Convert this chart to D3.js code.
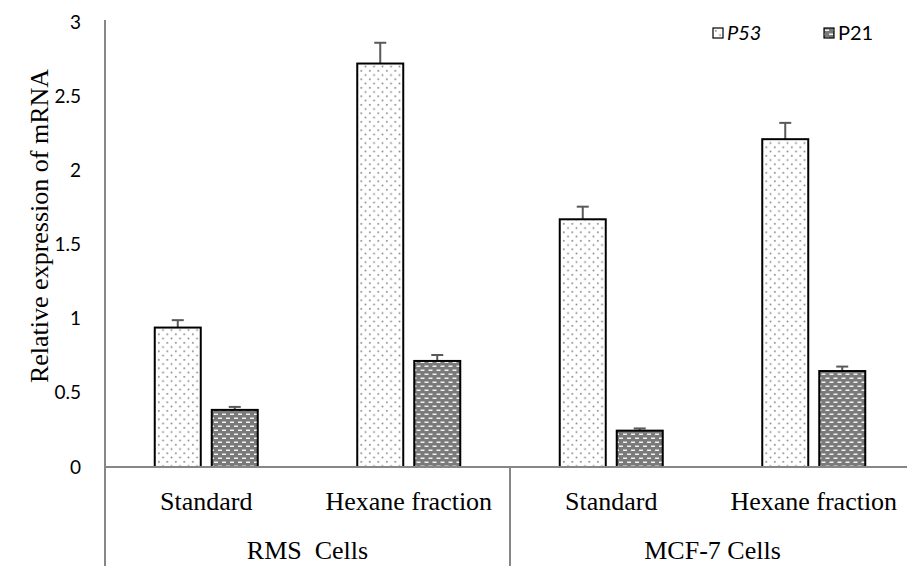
<!DOCTYPE html>
<html>
<head>
<meta charset="utf-8">
<title>Relative expression of mRNA</title>
<script src="https://d3js.org/d3.v7.min.js"></script>
<style>
  body { margin: 0; background: #fff; }
  svg { display: block; }
  .tick-label { font-family: Lato, "Open Sans", sans-serif; font-size: 19px; fill: #000; }
  .cat-label { font-family: "Liberation Serif", "DejaVu Serif", serif; font-size: 26px; fill: #000; }
  .legend-label { font-family: Lato, "Open Sans", sans-serif; font-size: 20px; fill: #000; }
</style>
</head>
<body>
<div id="chart"></div>
<script>
// chart values
var groups = ["RMS  Cells", "MCF-7 Cells"];
var categories = ["Standard", "Hexane fraction", "Standard", "Hexane fraction"];
var seriesNames = ["P53", "P21"];
var p53 = [0.94, 2.72, 1.67, 2.21];
var p53Err = [0.05, 0.14, 0.085, 0.11];
var p21 = [0.385, 0.715, 0.245, 0.647];
var p21Err = [0.02, 0.04, 0.015, 0.03];
var yTicks = [0, 0.5, 1, 1.5, 2, 2.5, 3];

var width = 907, height = 566;
var plotLeft = 105, plotRight = 915, plotTop = 22, plotBottom = 467;

var svg = d3.select("#chart").append("svg")
    .attr("width", width)
    .attr("height", height);

// fill patterns
var defs = svg.append("defs");
var dots = defs.append("pattern")
    .attr("id", "dots")
    .attr("patternUnits", "userSpaceOnUse")
    .attr("width", 8.5).attr("height", 8.5);
dots.append("rect").attr("width", 8.5).attr("height", 8.5).attr("fill", "#fff");
dots.append("rect").attr("x", 2).attr("y", 2).attr("width", 1.6).attr("height", 1.6).attr("fill", "#808080");
dots.append("rect").attr("x", 6.25).attr("y", 6.25).attr("width", 1.6).attr("height", 1.6).attr("fill", "#808080");

var bricks = defs.append("pattern")
    .attr("id", "bricks")
    .attr("patternUnits", "userSpaceOnUse")
    .attr("width", 8).attr("height", 8);
bricks.append("rect").attr("width", 8).attr("height", 8).attr("fill", "#7a7a7a");
bricks.append("rect").attr("x", 1).attr("y", 1.5).attr("width", 4).attr("height", 1.5).attr("fill", "#f2f2f2");
bricks.append("rect").attr("x", 5).attr("y", 5.5).attr("width", 3).attr("height", 1.5).attr("fill", "#f2f2f2");
bricks.append("rect").attr("x", 0).attr("y", 5.5).attr("width", 1).attr("height", 1.5).attr("fill", "#f2f2f2");

var fills = { P53: "url(#dots)", P21: "url(#bricks)" };

// scales
var x0 = d3.scaleBand()
    .domain(d3.range(categories.length))
    .range([plotLeft, plotRight]);

var x1 = d3.scaleBand()
    .domain(seriesNames)
    .range([49.75, 152.75])
    .paddingInner(0.193);

var y = d3.scaleLinear()
    .domain([0, 3])
    .range([plotBottom, plotTop]);

var rows = categories.map(function(c, i) {
  return [
    { series: "P53", i: i, value: p53[i], err: p53Err[i] },
    { series: "P21", i: i, value: p21[i], err: p21Err[i] }
  ];
});

// y tick labels
svg.append("g").selectAll("text")
  .data(yTicks)
  .join("text")
    .attr("class", "tick-label")
    .attr("x", 81)
    .attr("y", function(d) { return y(d); })
    .attr("dy", "0.35em")
    .attr("text-anchor", "end")
    .text(function(d) { return d; });

// axis title
svg.append("text")
    .attr("class", "cat-label")
    .attr("transform", "translate(48,226) rotate(-90)")
    .attr("text-anchor", "middle")
    .text("Relative expression of mRNA");

// bars
var catG = svg.append("g").selectAll("g")
  .data(rows)
  .join("g")
    .attr("transform", function(d, i) { return "translate(" + x0(i) + ",0)"; });

// error bars (drawn first, bar covers lower part)
catG.selectAll("g.err")
  .data(function(d) { return d; })
  .join("g")
    .attr("class", "err")
    .each(function(d) {
      var cx = x1(d.series) + x1.bandwidth() / 2;
      var g = d3.select(this);
      g.append("line")
        .attr("x1", cx).attr("x2", cx)
        .attr("y1", y(d.value)).attr("y2", y(d.value + d.err))
        .attr("stroke", "#595959").attr("stroke-width", 2);
      g.append("line")
        .attr("x1", cx - 6).attr("x2", cx + 6)
        .attr("y1", y(d.value + d.err)).attr("y2", y(d.value + d.err))
        .attr("stroke", "#595959").attr("stroke-width", 2);
    });

catG.selectAll("rect")
  .data(function(d) { return d; })
  .join("rect")
    .attr("x", function(d) { return x1(d.series); })
    .attr("y", function(d) { return y(d.value); })
    .attr("width", x1.bandwidth())
    .attr("height", function(d) { return y(0) - y(d.value); })
    .attr("fill", function(d) { return fills[d.series]; })
    .attr("stroke", "#000")
    .attr("stroke-width", 2);

// axis lines
var axisColor = "#878787";
svg.append("line")
    .attr("x1", plotLeft).attr("x2", plotRight)
    .attr("y1", y(0)).attr("y2", y(0))
    .attr("stroke", axisColor).attr("stroke-width", 2);
svg.append("line")
    .attr("x1", plotLeft).attr("x2", plotLeft)
    .attr("y1", 20).attr("y2", height)
    .attr("stroke", axisColor).attr("stroke-width", 2);
svg.append("line")
    .attr("x1", x0(2)).attr("x2", x0(2))
    .attr("y1", y(0)).attr("y2", height)
    .attr("stroke", axisColor).attr("stroke-width", 2);

// category labels
svg.append("g").selectAll("text")
  .data(categories)
  .join("text")
    .attr("class", "cat-label")
    .attr("x", function(d, i) { return x0(i) + x0.bandwidth() / 2; })
    .attr("y", 510)
    .attr("text-anchor", "middle")
    .text(function(d) { return d; });

// group labels
svg.append("g").selectAll("text")
  .data(groups)
  .join("text")
    .attr("class", "cat-label")
    .attr("x", function(d, i) { return (x0(i * 2) + x0(i * 2 + 1) + x0.bandwidth()) / 2; })
    .attr("y", 559)
    .attr("text-anchor", "middle")
    .style("white-space", "pre")
    .text(function(d) { return d; });

// legend
var legendX = [713, 824];
var legend = svg.append("g").selectAll("g")
  .data(seriesNames)
  .join("g")
    .attr("transform", function(d, i) { return "translate(" + legendX[i] + ",28)"; });
legend.append("rect")
    .attr("width", 10).attr("height", 10)
    .attr("fill", function(d) { return fills[d]; })
    .attr("stroke", "#000").attr("stroke-width", 1.2);
legend.append("text")
    .attr("class", "legend-label")
    .attr("x", 14)
    .attr("y", 12)
    .style("font-style", function(d) { return d === "P53" ? "italic" : "normal"; })
    .text(function(d) { return d; });
</script>
</body>
</html>
